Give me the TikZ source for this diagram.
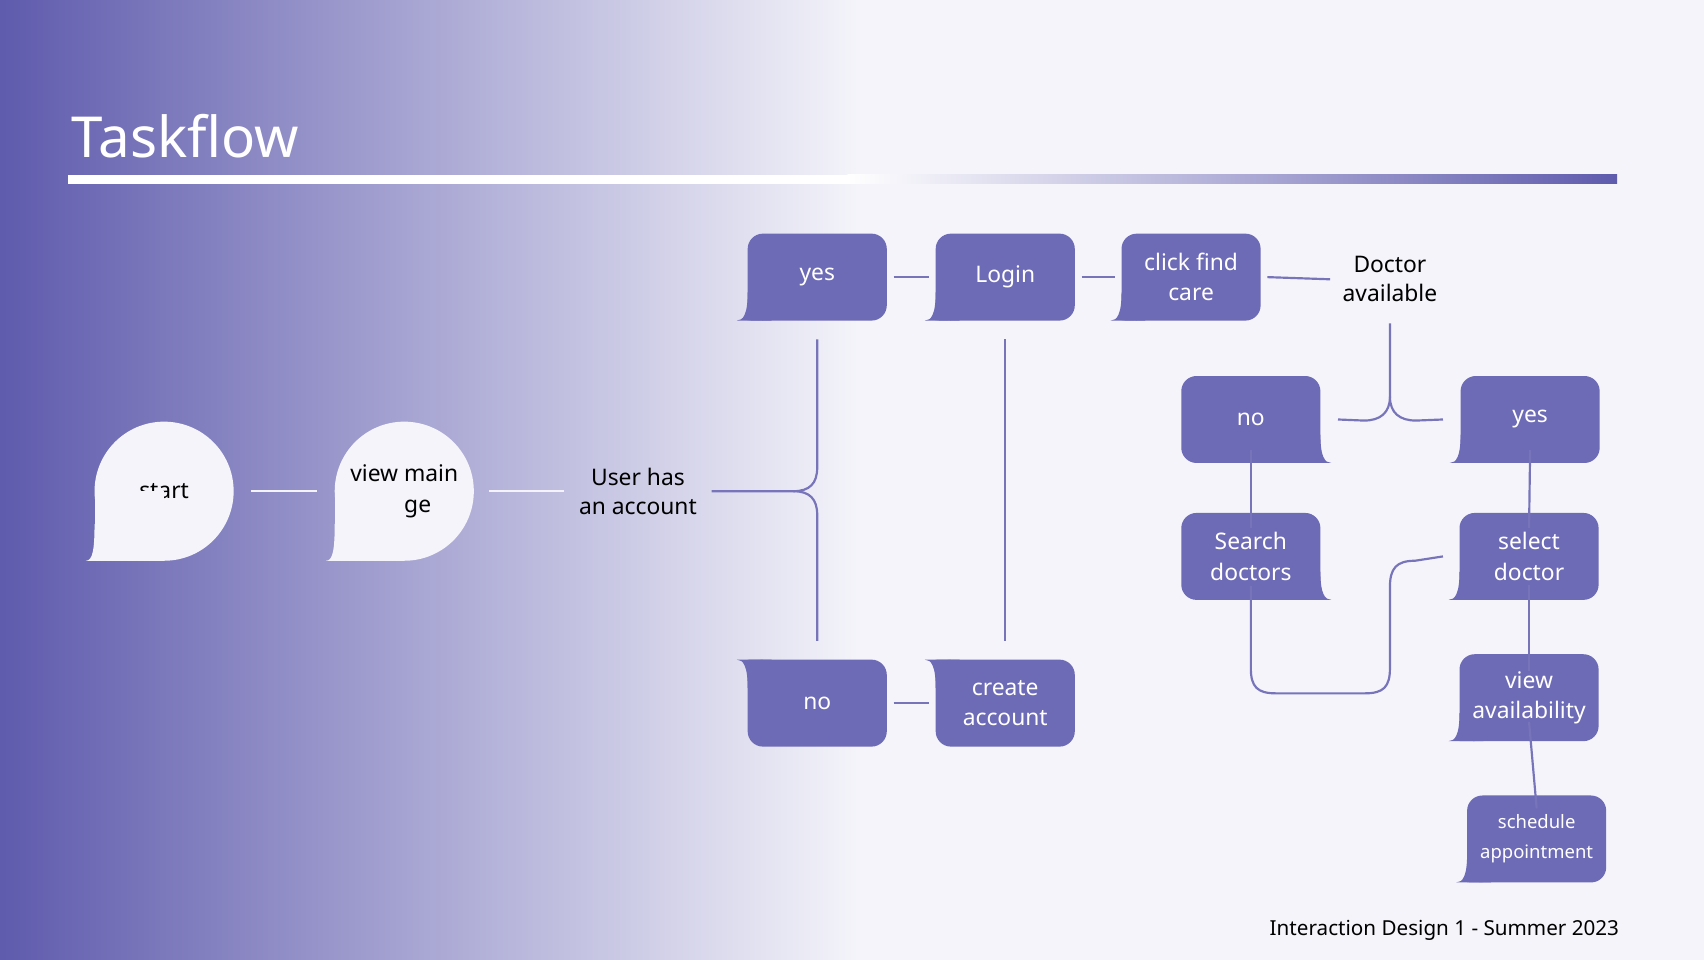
\documentclass[tikz,border=0pt]{standalone}
\usepackage{fontspec}
\setmainfont{Noto Sans}
\definecolor{bubcol}{HTML}{6E6BB6}
\definecolor{lncol}{HTML}{7774BA}
\definecolor{bgl}{HTML}{5F5BAD}
\definecolor{bgr}{HTML}{F4F4FA}
\tikzset{bubble/.style={fill=bubcol,rounded corners=14pt,inner sep=0pt,text=white,align=center,font=\fontsize{21}{28}\selectfont},
 wbubble/.style={fill=bgr,rounded corners=64pt,inner sep=0pt,text=black,align=center,font=\fontsize{21}{28}\selectfont},
 conn/.style={draw=lncol,line width=2pt},
 wconn/.style={draw=white!92!bubcol,line width=2pt},
 lab/.style={align=center,font=\fontsize{21}{27}\selectfont,text=black}}
\newcommand\bub[9]{%
\node[#9, minimum width=#4pt, minimum height=#5pt] (#1) at (#2,#3) {#8};
\begin{scope}[shift={(#2,#3)}, xscale=#6, yscale=#7]
\fill[#9/.try] [fill=bubcol] (-#4/2,#5/2-14) rectangle (-#4/2+14,#5/2);
\fill[fill=bubcol] (-#4/2,#5/2-26) .. controls (-#4/2,#5/2-6) and (-#4/2-4,#5/2) .. (-#4/2-10,#5/2) -- (-#4/2+22,#5/2) -- cycle;
\end{scope}}
\newcommand\wbub[5]{%
\node[wbubble, minimum width=128pt, minimum height=128pt] (#1) at (#2,#3) {#4};
\fill[bgr] (#2-64,#3) rectangle (#2,#3+64);
\fill[bgr] (#2-64,#3) rectangle (#2-36,#3+64);
\fill[bgr] (#2-64,#3+30) .. controls (#2-64,#3+55) and (#2-66,#3+64) .. (#2-72,#3+64) -- (#2-30,#3+64) -- cycle;
}
\begin{document}
\begin{tikzpicture}[x=1pt,y=-1pt]
\useasboundingbox (0,0) rectangle (1568,883);
\fill[bgr] (0,0) rectangle (1568,883);
\shade[left color=bgl,right color=bgr] (0,0) rectangle (790,883);
\node[anchor=base west,text=white,font=\fontsize{52}{60}\selectfont\bfseries,inner sep=0] (title) at (66,145) {Taskflow};
\fill[white] (63,161) rectangle (780,169);
\shade[left color=white,right color=bgl] (780,161) rectangle (1488,169);
% bubbles
\wbub{start}{151}{452}{start}{}
\wbub{view}{372}{452}{view main\\page}{}
\node[lab] (user) at (587,452) {User has\\an account};
\bub{yes1}{752}{255}{128}{80}{1}{1}{yes}{bubble}
\bub{login}{925}{255}{128}{80}{1}{1}{Login}{bubble}
\bub{click}{1096}{255}{128}{80}{1}{1}{click find\\care}{bubble}
\node[lab] (doc) at (1279,257) {Doctor\\available};
\bub{no1}{752}{647}{128}{80}{1}{-1}{no}{bubble}
\bub{create}{925}{647}{128}{80}{1}{-1}{create\\account}{bubble}
\bub{no2}{1151}{386}{128}{80}{-1}{1}{no}{bubble}
\bub{yes2}{1408}{386}{128}{80}{1}{1}{yes}{bubble}
\bub{search}{1151}{512}{128}{80}{-1}{1}{Search\\doctors}{bubble}
\bub{select}{1407}{512}{128}{80}{1}{1}{select\\doctor}{bubble}
\bub{avail}{1407}{642}{128}{80}{1}{1}{view\\availability}{bubble}
\bub{sched}{1414}{772}{128}{80}{1}{1}{\fontsize{17}{24}\selectfont schedule\\\fontsize{17}{24}\selectfont appointment}{bubble}
% connectors
\draw[wconn] ([xshift=16pt]start.east) -- ([xshift=-16pt]view.west);
\draw[wconn] ([xshift=14pt]view.east) -- ([xshift=-10pt]user.west);
\draw[conn] ([xshift=10pt]user.east) -- (730,452) .. controls (745,452) and (752,445) .. (752,430) -- ([yshift=-17pt]yes1.south);
\draw[conn] (730,452) .. controls (745,452) and (752,459) .. (752,474) -- ([yshift=17pt]no1.north);
\draw[conn] ([yshift=-17pt]login.south) -- ([yshift=17pt]create.north);
\draw[conn] ([xshift=6pt]yes1.east) -- ([xshift=-6pt]login.west);
\draw[conn] ([xshift=6pt]login.east) -- ([xshift=-6pt]click.west);
\draw[conn] ([xshift=6pt]click.east) -- ([xshift=-8pt]doc.west);
\draw[conn] ([xshift=6pt]no1.east) -- ([xshift=-6pt]create.west);
\draw[conn] ([yshift=-16pt]doc.south) -- (1279,365) .. controls (1279,380) and (1270,387) .. (1255,387) -- ([xshift=16pt]no2.east);
\draw[conn] (1279,365) .. controls (1279,380) and (1288,387) .. (1303,387) -- ([xshift=-16pt]yes2.west);
\draw[conn] ([yshift=12pt]no2.south) -- ([yshift=-14pt]search.north);
\draw[conn] ([yshift=12pt]yes2.south) -- ([yshift=-14pt]select.north);
\draw[conn] ([yshift=14pt]select.south) -- ([yshift=-16pt]avail.north);
\draw[conn] ([yshift=18pt]avail.south) -- ([yshift=-12pt]sched.north);
\draw[conn] ([yshift=13pt]search.south) -- (1151,615) .. controls (1151,632) and (1157,638) .. (1174,638) -- (1256,638) .. controls (1273,638) and (1279,632) .. (1279,615) -- (1279,540) .. controls (1279,523) and (1285,516) .. (1302,516) -- ([xshift=-15pt]select.west);
\node[anchor=base east,font=\fontsize{19}{24}\selectfont,inner sep=0] (foot) at (1490,861) {Interaction Design 1 - Summer 2023};
\end{tikzpicture}
\end{document}
